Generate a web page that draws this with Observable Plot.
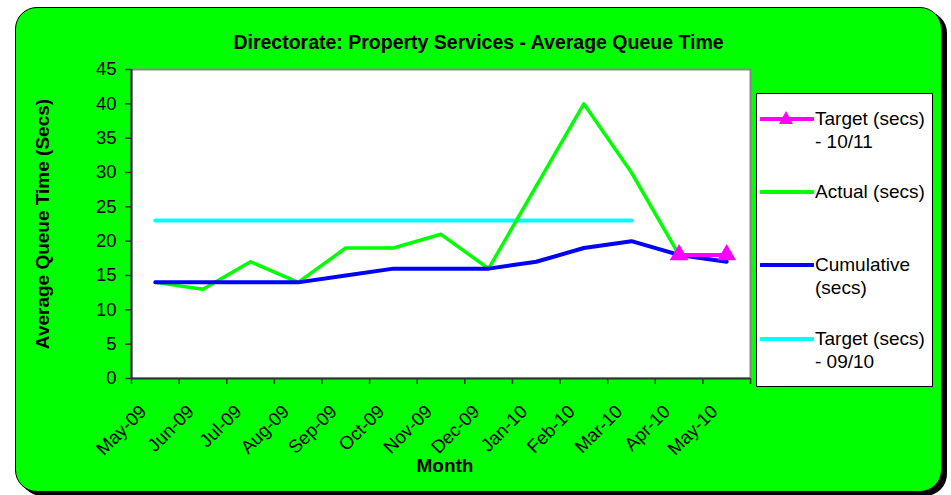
<!DOCTYPE html>
<html>
<head>
<meta charset="utf-8">
<script src="https://cdn.jsdelivr.net/npm/d3@7"></script>
<script src="https://cdn.jsdelivr.net/npm/@observablehq/plot@0.6"></script>
<style>
  html, body { margin: 0; padding: 0; background: #fff; }
  #wrap { position: relative; width: 951px; height: 495px; overflow: hidden;
          font-family: "Liberation Sans", Arial, Helvetica, sans-serif; }
  #box { position: absolute; left: 15px; top: 7px; width: 925px; height: 483px;
         background: #00ff00; border: 1px solid #000; border-radius: 22px;
         box-shadow: 5px 4px 0 #000; }
  #title { position: absolute; left: 0; width: 957px; top: 31px; text-align: center;
           font-weight: bold; font-size: 19.5px; line-height: 22px; }
  #ylab { position: absolute; left: 43px; top: 224px; transform: translate(-50%, -50%) rotate(-90deg);
          white-space: nowrap; font-weight: bold; font-size: 19px; }
  #xlab { position: absolute; left: 445px; top: 455px; transform: translateX(-50%);
          font-weight: bold; font-size: 19px; }
  #chart { position: absolute; left: 0; top: 0; }
  #legend { position: absolute; left: 756px; top: 93px; width: 175px; height: 292px;
            background: #fff; border: 1px solid #000; }
  .entry { position: absolute; left: 0; width: 175px; }
  .entry svg { position: absolute; left: 3px; }
  .entry .lt { position: absolute; left: 58px; font-size: 19px; line-height: 23px; white-space: nowrap; }
</style>
</head>
<body>
<div id="wrap">
  <div id="box"></div>
  <div id="title">Directorate: Property Services - Average Queue Time</div>
  <div id="ylab">Average Queue Time (Secs)</div>
  <div id="xlab">Month</div>
  <div id="chart"></div>
  <div id="legend"></div>
</div>
<script>
const months = ["May-09","Jun-09","Jul-09","Aug-09","Sep-09","Oct-09","Nov-09","Dec-09","Jan-10","Feb-10","Mar-10","Apr-10","May-10"];
const actual = [14, 13, 17, 14, 19, 19, 21, 16, 28, 40, 30, 18, null];
const cumulative = [14, 14, 14, 14, 15, 16, 16, 16, 17, 19, 20, 18, 17];
const target0910 = [23, 23, 23, 23, 23, 23, 23, 23, 23, 23, 23, null, null];
const target1011 = [null, null, null, null, null, null, null, null, null, null, null, 18, 18];
const yTicks = [0, 5, 10, 15, 20, 25, 30, 35, 40, 45];

const seriesNames = ["Target (secs)\n- 10/11", "Actual (secs)", "Cumulative\n(secs)", "Target (secs)\n- 09/10"];
const seriesColors = ["#ff00ff", "#00ff00", "#0000ff", "#00ffff"];

const rows = (vals) => months.map((m, i) => ({i: i + 0.5, m, v: vals[i]})).filter(d => d.v != null);

const chart = Plot.plot({
  width: 951,
  height: 495,
  marginLeft: 131,
  marginRight: 201,
  marginTop: 69,
  marginBottom: 117,
  style: {background: "transparent", fontFamily: "'Liberation Sans', Arial, sans-serif", fontSize: "18.5px", overflow: "visible", color: "#000"},
  x: {domain: [0, months.length]},
  y: {domain: [0, 45]},
  marks: [
    Plot.frame({fill: "#fff", stroke: "#888", strokeWidth: 2}),
    Plot.axisY({ticks: yTicks, tickSize: 6, tickPadding: 9, label: null, stroke: "#333", strokeWidth: 1.5}),
    Plot.axisX({ticks: d3.range(months.length + 1), tickSize: 6, tickFormat: () => "", label: null, stroke: "#333", strokeWidth: 1.5}),
    Plot.ruleX([0], {stroke: "#333", strokeWidth: 2}),
    Plot.ruleY([0], {stroke: "#333", strokeWidth: 2}),
    Plot.text(months.map((m, i) => ({m, i: i + 0.5})), {x: "i", y: () => 0, text: "m", rotate: -45, textAnchor: "end", dx: -12, dy: 30, fontSize: 18.5, fill: "#000"}),
    Plot.line(rows(target0910), {x: "i", y: "v", stroke: seriesColors[3], strokeWidth: 4}),
    Plot.line(rows(actual), {x: "i", y: "v", stroke: seriesColors[1], strokeWidth: 3.5}),
    Plot.line(rows(cumulative), {x: "i", y: "v", stroke: seriesColors[2], strokeWidth: 4}),
    Plot.line(rows(target1011), {x: "i", y: "v", stroke: seriesColors[0], strokeWidth: 4}),
    Plot.dot(rows(target1011), {x: "i", y: "v", symbol: "triangle", r: 7, fill: seriesColors[0], stroke: "none"})
  ]
});
document.getElementById("chart").appendChild(chart);

// legend
const legend = document.getElementById("legend");
const ys = [25, 98, 171, 245];
seriesNames.forEach((name, k) => {
  const e = document.createElement("div");
  e.className = "entry";
  e.style.top = ys[k] + "px";
  const tri = k === 0 ? `<path d="M26,-8 L33,5 L19,5 Z" fill="${seriesColors[0]}"/>` : "";
  e.innerHTML = `<svg width="54" height="20" style="top:-10px" viewBox="0 -10 54 20"><line x1="1" y1="0" x2="53" y2="0" stroke="${seriesColors[k]}" stroke-width="4" stroke-linecap="round"/>${tri}</svg>` +
    `<div class="lt" style="top:-12px">${name.replace("\n", "<br>")}</div>`;
  legend.appendChild(e);
});
</script>
</body>
</html>
